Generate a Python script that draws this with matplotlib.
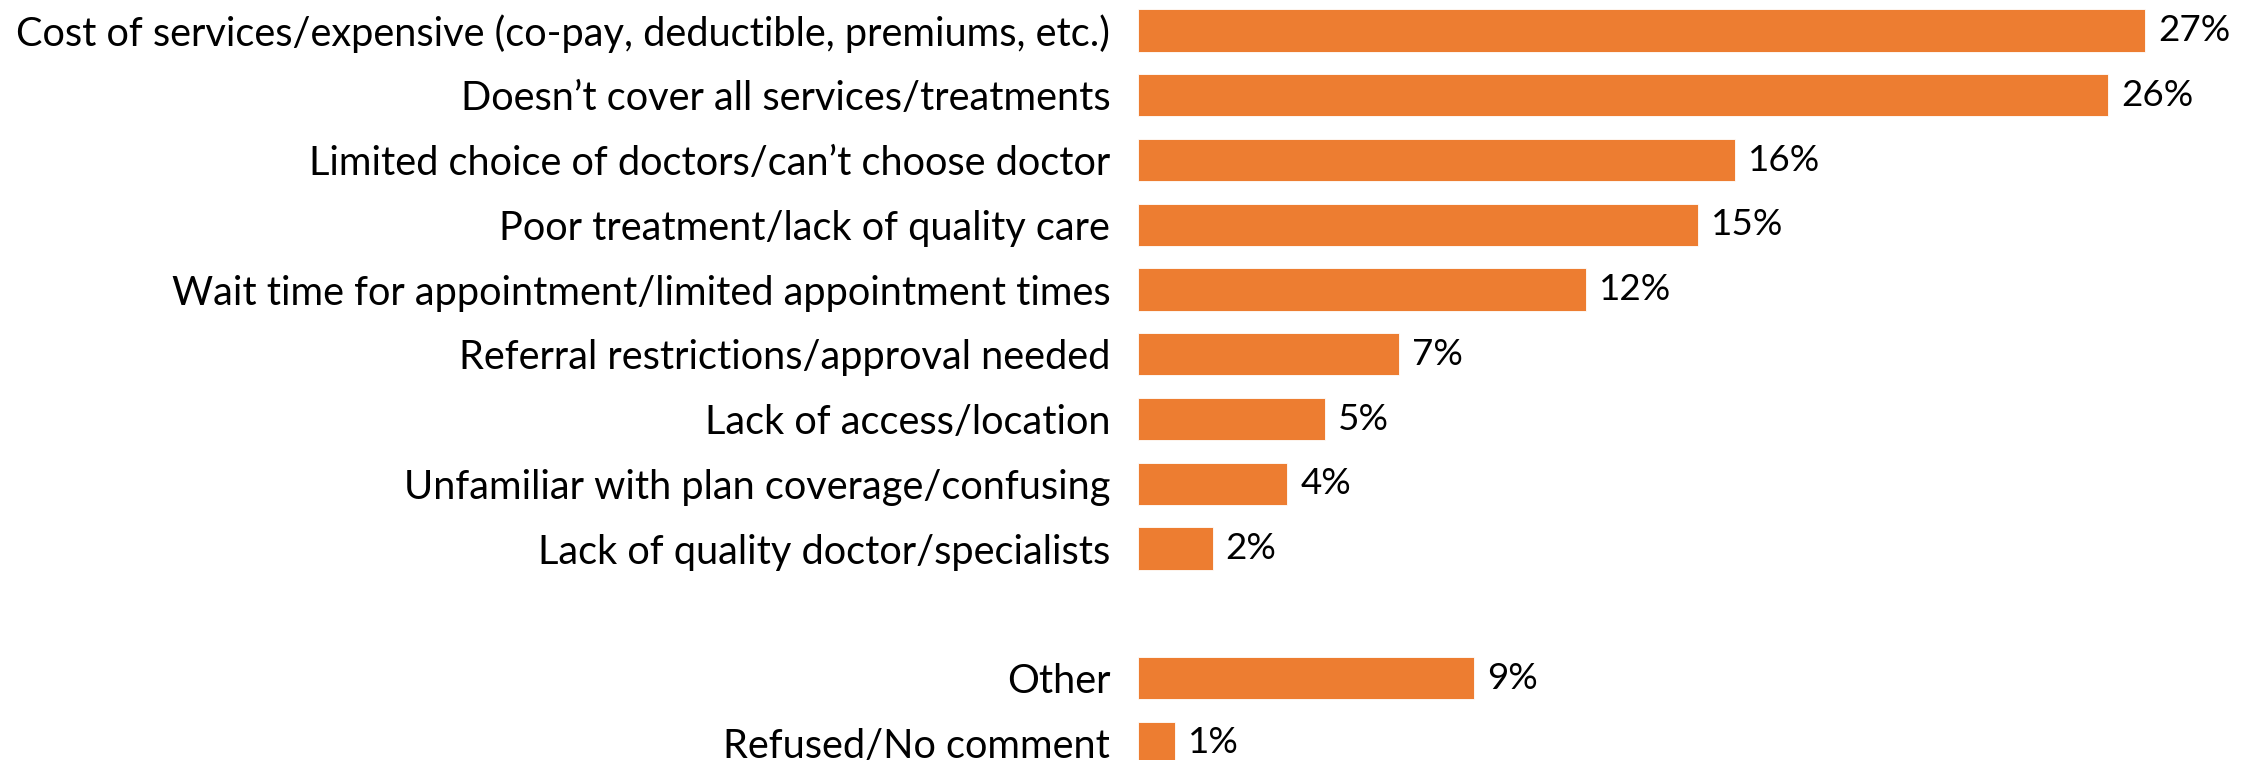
import matplotlib.pyplot as plt
import numpy as np

# categories and shares (percent)
labels = ['Cost of services/expensive (co-pay, deductible, premiums, etc.)',
          'Doesn\u2019t cover all services/treatments',
          'Limited choice of doctors/can\u2019t choose doctor',
          'Poor treatment/lack of quality care',
          'Wait time for appointment/limited appointment times',
          'Referral restrictions/approval needed',
          'Lack of access/location',
          'Unfamiliar with plan coverage/confusing',
          'Lack of quality doctor/specialists',
          'Other',
          'Refused/No comment']
values = [27, 26, 16, 15, 12, 7, 5, 4, 2, 9, 1]

# one empty slot before "Other"
pos = np.array([0, 1, 2, 3, 4, 5, 6, 7, 8, 10, 11])

plt.rcParams['font.family'] = ['Lato', 'DejaVu Sans']

fig = plt.figure(figsize=(22.59, 7.6), dpi=100)
ax = fig.add_axes([1138 / 2259, 0, 1119 / 2259, 1])

ax.barh(pos, values, height=0.65, color='#ED7D31', edgecolor='white', linewidth=0.6)
for p, v in zip(pos, values):
    ax.text(v + 0.35, p, f'{v}%', va='center', ha='left', fontsize=26.5)

ax.set_xlim(0, 30)
ax.set_ylim(11.266, -0.471)
ax.set_yticks(pos)
ax.set_yticklabels(labels, fontsize=28.6)
ax.tick_params(axis='y', length=0, pad=20)
ax.set_xticks([])
for s in ax.spines.values():
    s.set_visible(False)

fig.savefig('out.png', dpi=100)
